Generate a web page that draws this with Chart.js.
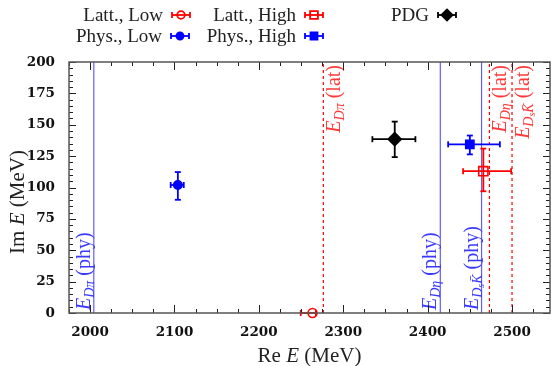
<!DOCTYPE html>
<html>
<head>
<meta charset="utf-8">
<script src="https://cdn.jsdelivr.net/npm/chart.js@4/dist/chart.umd.min.js"></script>
<style>
html, body { margin: 0; padding: 0; background: #fff; }
</style>
</head>
<body>
<canvas id="grafico" width="551" height="366"></canvas>
<script>
// Polos: Re E e Im E (MeV), com barras de erro
const nomes = ["Latt., Low", "Latt., High", "PDG", "Phys., Low", "Phys., High"];
const reE = [2263.6, 2466, 2361, 2104, 2450];
const imE = [0, 113, 138.5, 102, 134.4];
const reErrMenos = [14, 24, 26.5, 8.5, 25.7];
const reErrMais = [4, 33, 24.5, 7, 35.6];
const imErrMenos = [0, 16, 14.3, 11.8, 8];
const imErrMais = [0, 18, 14, 10.3, 7];

// Limiares (MeV)
const limiarRotulos = ["D\u03c0", "D\u03b7", "DsK", "D\u03c0", "D\u03b7", "DsK"];
const limiarTipos = ["phy", "phy", "phy", "lat", "lat", "lat"];
const limiares = [2004.4, 2415, 2463.9, 2276.4, 2473.2, 2500];

// Eixos
const xTicks = [2000, 2100, 2200, 2300, 2400, 2500];
const yTicks = [0, 25, 50, 75, 100, 125, 150, 175, 200];

const cores = ["#ff0000", "#ff0000", "#000000", "#0000ff", "#0000ff"];
const simbolos = ["circle", "rect", "rectRot", "circle", "rect"];
const raios = [4.5, 6.5, 6.5, 4.2, 5.8];
const cheio = [false, false, true, true, true];

const serif = "'Liberation Serif', serif";

const datasets = [];
for (let i = 0; i < nomes.length; i++) {
    datasets.push({
        label: nomes[i],
        data: [{ x: reE[i], y: imE[i] }],
        pointStyle: simbolos[i],
        pointRadius: raios[i],
        pointHoverRadius: raios[i],
        borderColor: cores[i],
        backgroundColor: cheio[i] ? cores[i] : "rgba(0,0,0,0)",
        pointBorderWidth: 1.6,
        clip: false,
        erro: i
    });
}
for (let i = 0; i < limiares.length; i++) {
    const phy = limiarTipos[i] === "phy";
    datasets.push({
        label: "E " + limiarRotulos[i] + " (" + limiarTipos[i] + ")",
        data: [{ x: limiares[i], y: 0 }, { x: limiares[i], y: 200 }],
        showLine: true,
        pointRadius: 0,
        borderWidth: 1.2,
        borderColor: phy ? "rgba(40,40,255,0.75)" : "#ff0000",
        borderDash: phy ? [] : [3, 3],
        limiar: i
    });
}

function linha(ctx, x1, y1, x2, y2) {
    ctx.beginPath();
    ctx.moveTo(x1, y1);
    ctx.lineTo(x2, y2);
    ctx.stroke();
}

// Texto com subscritos: lista de pedaços {t, f, dy}
function textoRico(ctx, partes, x, y, ang, alinhar) {
    let total = 0;
    partes.forEach(p => { ctx.font = p.f; total += ctx.measureText(p.t).width; });
    ctx.save();
    ctx.translate(x, y);
    ctx.rotate(ang);
    let u = alinhar === "right" ? -total : (alinhar === "center" ? -total / 2 : 0);
    ctx.textBaseline = "alphabetic";
    ctx.textAlign = "left";
    partes.forEach(p => {
        ctx.font = p.f;
        ctx.fillText(p.t, u, p.dy || 0);
        u += ctx.measureText(p.t).width;
    });
    ctx.restore();
}

function partesLimiar(i) {
    const it = "italic 20px " + serif, sub = "italic 14px " + serif, subsub = "italic 10px " + serif;
    const rm = "20px " + serif;
    let partes = [{ t: "E", f: it }];
    if (limiarRotulos[i] === "DsK") {
        partes.push({ t: "D", f: sub, dy: 4 }, { t: "s", f: subsub, dy: 6 }, { t: "K\u0304", f: sub, dy: 4 });
    } else {
        partes.push({ t: limiarRotulos[i], f: sub, dy: 4 });
    }
    partes.push({ t: " (" + limiarTipos[i] + ")", f: rm });
    return partes;
}

const barrasDeErro = {
    id: "barrasDeErro",
    beforeDatasetDraw(chart, args) {
        const ds = chart.data.datasets[args.index];
        if (ds.erro === undefined) return;
        const i = ds.erro;
        const { ctx, scales: { x, y } } = chart;
        const px = x.getPixelForValue(reE[i]), py = y.getPixelForValue(imE[i]);
        const x1 = x.getPixelForValue(reE[i] - reErrMenos[i]), x2 = x.getPixelForValue(reE[i] + reErrMais[i]);
        const y1 = y.getPixelForValue(imE[i] - imErrMenos[i]), y2 = y.getPixelForValue(imE[i] + imErrMais[i]);
        const c = 3;
        ctx.save();
        ctx.strokeStyle = cores[i];
        ctx.lineWidth = 1.8;
        linha(ctx, x1, py, x2, py);
        linha(ctx, x1, py - c, x1, py + c);
        linha(ctx, x2, py - c, x2, py + c);
        if (imErrMenos[i] + imErrMais[i] > 0) {
            linha(ctx, px, y1, px, y2);
            linha(ctx, px - c, y1, px + c, y1);
            linha(ctx, px - c, y2, px + c, y2);
        }
        ctx.restore();
    }
};

const moldura = {
    id: "moldura",
    afterDatasetsDraw(chart) {
        const { ctx, chartArea: a, scales: { x, y } } = chart;
        ctx.save();
        // rótulos dos limiares
        for (let i = 0; i < limiares.length; i++) {
            const px = x.getPixelForValue(limiares[i]);
            if (limiarTipos[i] === "phy") {
                ctx.fillStyle = "#3a3aff";
                textoRico(ctx, partesLimiar(i), px - 4, a.bottom - 3, -Math.PI / 2, "left");
            } else {
                ctx.fillStyle = "#ff3a3a";
                textoRico(ctx, partesLimiar(i), px + 17, a.top + 3, -Math.PI / 2, "right");
            }
        }
        // marcas para dentro
        ctx.strokeStyle = "#222";
        ctx.lineWidth = 1;
        for (let v = 1975; v <= 2545; v += 25) {
            const px = Math.round(x.getPixelForValue(v)) + 0.5;
            const len = v % 100 === 0 ? 8 : 4;
            linha(ctx, px, a.bottom, px, a.bottom - len);
            linha(ctx, px, a.top, px, a.top + len);
        }
        for (let v = 0; v <= 200; v += 5) {
            const py = Math.round(y.getPixelForValue(v)) + 0.5;
            const len = v % 25 === 0 ? 7 : 4;
            linha(ctx, a.left, py, a.left + len, py);
            linha(ctx, a.right, py, a.right - len, py);
        }
        ctx.strokeStyle = "#555";
        ctx.lineWidth = 1.5;
        ctx.strokeRect(a.left, a.top, a.width, a.height);
        ctx.restore();
    },
    afterDraw(chart) {
        const { ctx, chartArea: a } = chart;
        ctx.save();
        ctx.fillStyle = "#222";
        const rm = "21px " + serif, it = "italic 21px " + serif;
        textoRico(ctx, [{ t: "Re ", f: rm }, { t: "E", f: it }, { t: " (MeV)", f: rm }],
            (a.left + a.right) / 2, 362, 0, "center");
        textoRico(ctx, [{ t: "Im ", f: rm }, { t: "E", f: it }, { t: " (MeV)", f: rm }],
            24, 202, -Math.PI / 2, "center");

        // legenda
        const pos = [[163, 15], [296, 15], [429, 15], [162, 36], [296, 36]];
        ctx.font = "19px " + serif;
        ctx.textAlign = "right";
        ctx.textBaseline = "middle";
        for (let i = 0; i < nomes.length; i++) {
            const [tx, ty] = pos[i];
            ctx.fillStyle = "#222";
            ctx.fillText(nomes[i], tx, ty + 1);
            const sx = tx + 18, c = 3;
            ctx.strokeStyle = cores[i];
            ctx.lineWidth = 1.8;
            linha(ctx, sx - 9, ty, sx + 9, ty);
            linha(ctx, sx - 9, ty - c, sx - 9, ty + c);
            linha(ctx, sx + 9, ty - c, sx + 9, ty + c);
            ctx.fillStyle = cheio[i] ? cores[i] : "rgba(0,0,0,0)";
            Chart.helpers.drawPoint(ctx, { pointStyle: simbolos[i], radius: raios[i] * 0.85, borderWidth: 1.6, rotation: 0 }, sx, ty);
        }
        ctx.restore();
    }
};

const fonteTicks = { family: "'DejaVu Serif'", size: 13.5, weight: "bold" };

const ctx = document.getElementById("grafico").getContext("2d");
const grafico = new Chart(ctx, {
    type: "scatter",
    data: { datasets: datasets },
    options: {
        responsive: false,
        animation: false,
        events: [],
        layout: { autoPadding: false, padding: { top: 62, right: 1, left: 0, bottom: 0 } },
        plugins: { legend: { display: false }, tooltip: { enabled: false } },
        scales: {
            x: {
                type: "linear",
                min: 1975,
                max: 2545,
                grid: { display: false, drawTicks: false },
                border: { display: false },
                afterBuildTicks: s => { s.ticks = xTicks.map(v => ({ value: v })); },
                afterFit: s => { s.height = 53; s.paddingLeft = 0; s.paddingRight = 0; },
                ticks: { padding: 11, maxRotation: 0, autoSkip: false, color: "#111", font: fonteTicks, callback: v => String(v) }
            },
            y: {
                min: 0,
                max: 200,
                grid: { display: false, drawTicks: false },
                border: { display: false },
                afterBuildTicks: s => { s.ticks = yTicks.map(v => ({ value: v })); },
                afterFit: s => { s.width = 69; s.paddingTop = 0; s.paddingBottom = 0; },
                ticks: { padding: 14, color: "#111", font: fonteTicks, callback: v => String(v) }
            }
        }
    },
    plugins: [barrasDeErro, moldura]
});
</script>
</body>
</html>
